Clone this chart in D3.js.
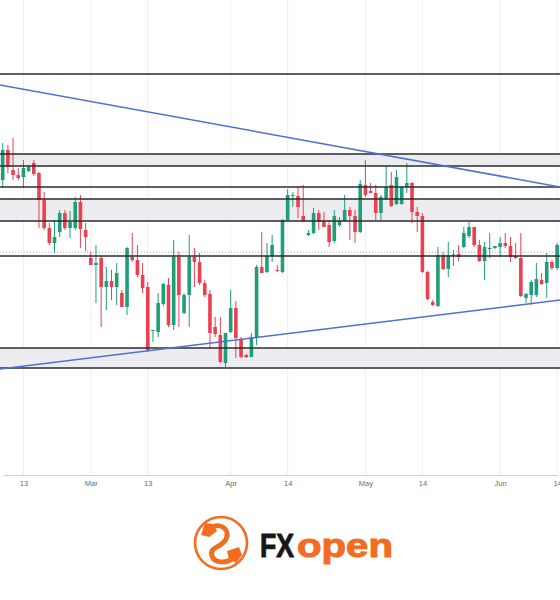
<!DOCTYPE html>
<html>
<head>
<meta charset="utf-8">
<script src="https://cdn.jsdelivr.net/npm/d3@7"></script>
<style>
  body { margin: 0; background: #fff; }
</style>
</head>
<body>
<div id="chart"></div>
<script>
// daily candles, Feb 9 .. Jun 14 (sunday bars included, no saturdays)
var openP = [1.320,1.350,1.330,1.325,1.323,1.329,1.337,1.327,1.300,1.272,1.257,1.268,1.287,1.272,1.272,1.298,1.270,1.242,1.235,1.242,
             1.213,1.219,1.213,1.207,1.193,1.243,1.240,1.225,1.213,1.169,1.168,1.196,1.215,1.175,1.243,1.187,1.205,1.243,1.238,1.217,
             1.206,1.173,1.165,1.137,1.168,1.192,1.161,1.145,1.143,1.163,1.233,1.228,1.244,1.230,1.228,1.280,1.304,1.304,1.284,1.265,
             1.267,1.287,1.279,1.275,1.259,1.275,1.279,1.290,1.284,1.268,1.315,1.309,1.307,1.287,1.301,1.315,1.296,1.296,1.313,1.317,
             1.288,1.284,1.228,1.198,1.194,1.245,1.231,1.244,1.246,1.253,1.264,1.273,1.255,1.239,1.2515,1.252,1.253,1.257,1.254,1.244,
             1.242,1.202,1.205,1.205,1.220,1.217,1.238,1.232];
var highP = [1.357,1.355,1.362,1.332,1.340,1.335,1.340,1.328,1.308,1.277,1.280,1.290,1.290,1.289,1.303,1.305,1.277,1.248,1.255,1.244,
             1.233,1.230,1.237,1.210,1.253,1.267,1.255,1.237,1.218,1.170,1.207,1.217,1.222,1.260,1.248,1.207,1.265,1.252,1.247,1.220,
             1.210,1.183,1.183,1.167,1.210,1.199,1.163,1.146,1.167,1.235,1.268,1.257,1.265,1.235,1.281,1.311,1.308,1.313,1.315,1.270,
             1.292,1.290,1.288,1.280,1.290,1.283,1.305,1.293,1.290,1.320,1.340,1.317,1.315,1.305,1.334,1.328,1.330,1.313,1.337,1.318,
             1.293,1.287,1.229,1.200,1.253,1.248,1.258,1.250,1.255,1.273,1.278,1.273,1.260,1.258,1.267,1.254,1.263,1.267,1.263,1.257,
             1.267,1.207,1.220,1.237,1.227,1.247,1.240,1.257];
var lowP = [1.313,1.327,1.320,1.320,1.312,1.328,1.324,1.272,1.270,1.255,1.247,1.263,1.270,1.262,1.270,1.252,1.249,1.235,1.197,1.173,
            1.190,1.200,1.195,1.193,1.185,1.238,1.223,1.207,1.148,1.158,1.163,1.194,1.173,1.170,1.173,1.186,1.173,1.213,1.215,1.203,
            1.152,1.163,1.137,1.133,1.167,1.142,1.142,1.142,1.143,1.155,1.227,1.227,1.238,1.228,1.227,1.279,1.293,1.282,1.278,1.264,
            1.266,1.270,1.273,1.253,1.257,1.273,1.278,1.260,1.257,1.267,1.303,1.307,1.280,1.280,1.300,1.293,1.295,1.295,1.307,1.277,
            1.268,1.227,1.200,1.194,1.193,1.230,1.223,1.234,1.239,1.252,1.262,1.253,1.238,1.220,1.242,1.251,1.243,1.252,1.238,1.241,
            1.203,1.197,1.195,1.203,1.215,1.202,1.230,1.230];
var closeP = [1.350,1.333,1.325,1.322,1.332,1.333,1.326,1.300,1.272,1.257,1.263,1.287,1.272,1.278,1.298,1.271,1.263,1.235,1.237,1.213,
              1.219,1.213,1.227,1.193,1.252,1.240,1.225,1.212,1.150,1.170,1.197,1.216,1.175,1.243,1.205,1.205,1.243,1.238,1.217,1.205,
              1.167,1.166,1.138,1.167,1.192,1.162,1.143,1.143,1.163,1.233,1.227,1.244,1.255,1.229,1.280,1.305,1.305,1.293,1.279,1.267,
              1.287,1.278,1.273,1.258,1.284,1.279,1.290,1.284,1.268,1.316,1.305,1.307,1.287,1.303,1.313,1.294,1.323,1.313,1.317,1.288,
              1.284,1.228,1.201,1.195,1.245,1.231,1.245,1.2455,1.243,1.267,1.273,1.255,1.239,1.253,1.252,1.254,1.257,1.254,1.243,1.242,
              1.204,1.206,1.218,1.221,1.216,1.238,1.232,1.255];

// drawn levels
var levelLines = [1.426, 1.346, 1.334, 1.313, 1.301, 1.279, 1.244, 1.152, 1.132];
var zones = [[1.334, 1.346], [1.279, 1.301], [1.132, 1.152]];
var lastPrice = 1.248;
// trend lines as [bar index, price]
var trendUpper = [[-1, 1.4155], [108, 1.3126]];
var trendLower = [[-1, 1.1307], [108, 1.2003]];

var tickDates = ["2026-02-13", "2026-03-01", "2026-03-13", "2026-04-01", "2026-04-14",
                 "2026-05-01", "2026-05-14", "2026-06-01", "2026-06-14"];
var tickLabels = ["13", "Mar", "13", "Apr", "14", "May", "14", "Jun", "14"];

var width = 560, height = 600, plotBottom = 475;
var upColor = "#1f9e7a", downColor = "#eb4050", orange = "#f36c21";

// bar dates, skipping saturdays like the feed does
var fmt = d3.timeFormat("%Y-%m-%d");
var dates = [];
var d = new Date(2026, 1, 9);
while (dates.length < openP.length) {
    if (d.getDay() !== 6) dates.push(new Date(d));
    d.setDate(d.getDate() + 1);
}
var candles = dates.map(function (dt, i) {
    return { i: i, date: dt, o: openP[i], h: highP[i], l: lowP[i], c: closeP[i] };
});
var tickIdx = tickDates.map(function (s) {
    return dates.findIndex(function (dt) { return fmt(dt) === s; });
});

var svg = d3.select("#chart").append("svg")
    .attr("width", width)
    .attr("height", height)
    .style("display", "block");

svg.append("defs").append("clipPath").attr("id", "plot")
    .append("rect").attr("x", 0).attr("y", 0).attr("width", width).attr("height", plotBottom);

var x = d3.scaleLinear().domain([0, 107]).range([2.7, 557.1]);
var y = d3.scaleLinear().domain([1.0, 1.5]).range([500, 0]);

var plot = svg.append("g").attr("clip-path", "url(#plot)");

// grid
plot.selectAll(".vgrid")
    .data(tickIdx)
    .enter().append("line")
    .attr("class", "vgrid")
    .attr("x1", function (d) { return x(d); })
    .attr("x2", function (d) { return x(d); })
    .attr("y1", 0).attr("y2", plotBottom)
    .attr("stroke", "#eeeeef")
    .attr("stroke-width", 1);

// zones
plot.selectAll(".zone")
    .data(zones)
    .enter().append("rect")
    .attr("class", "zone")
    .attr("x", 0)
    .attr("width", width)
    .attr("y", function (d) { return y(d[1]); })
    .attr("height", function (d) { return y(d[0]) - y(d[1]); })
    .attr("fill", "#ededf1");

// last price dotted
plot.append("line")
    .attr("x1", 0).attr("x2", width)
    .attr("y1", y(lastPrice)).attr("y2", y(lastPrice))
    .attr("stroke", "#a8b8b0")
    .attr("stroke-width", 1)
    .attr("stroke-dasharray", "1,2");

// candles
var cw = 3.6;
var cg = plot.selectAll(".candle")
    .data(candles)
    .enter().append("g")
    .attr("class", "candle");

cg.append("line")
    .attr("x1", function (d) { return x(d.i); })
    .attr("x2", function (d) { return x(d.i); })
    .attr("y1", function (d) { return y(d.h); })
    .attr("y2", function (d) { return y(d.l); })
    .attr("stroke", function (d) { return d.c >= d.o ? upColor : downColor; })
    .attr("stroke-width", 1);

cg.append("rect")
    .attr("x", function (d) { return x(d.i) - cw / 2; })
    .attr("width", cw)
    .attr("y", function (d) { return y(Math.max(d.o, d.c)); })
    .attr("height", function (d) { return Math.max(1, Math.abs(y(d.o) - y(d.c))); })
    .attr("fill", function (d) { return d.c >= d.o ? upColor : downColor; });

// level lines
plot.selectAll(".level")
    .data(levelLines)
    .enter().append("line")
    .attr("class", "level")
    .attr("x1", 0).attr("x2", width)
    .attr("y1", function (d) { return y(d); })
    .attr("y2", function (d) { return y(d); })
    .attr("stroke", "#2b2b2b")
    .attr("stroke-width", 1.4);

// trend lines
var tline = d3.line()
    .x(function (d) { return x(d[0]); })
    .y(function (d) { return y(d[1]); });

plot.selectAll(".trend")
    .data([trendUpper, trendLower])
    .enter().append("path")
    .attr("class", "trend")
    .attr("d", tline)
    .attr("fill", "none")
    .attr("stroke", "#4f6fd6")
    .attr("stroke-width", 1.5);

// x axis
var xAxis = svg.append("g")
    .attr("transform", "translate(0," + plotBottom + ")")
    .call(d3.axisBottom(x)
        .tickValues(tickIdx)
        .tickFormat(function (d, i) { return tickLabels[i]; })
        .tickSize(0)
        .tickPadding(6));
xAxis.select(".domain").attr("stroke", "#cfcfd2");
xAxis.selectAll("text")
    .attr("fill", "#6a6a6a")
    .style("font-family", "Arial, 'Liberation Sans', sans-serif")
    .style("font-size", "7.5px");

// FXOpen logo
var logo = svg.append("g").attr("transform", "translate(221,543)");
logo.append("circle")
    .attr("r", 26)
    .attr("fill", "none")
    .attr("stroke", orange)
    .attr("stroke-width", 2.6);
logo.append("path")
    .attr("d", "M-12,-14 C-2,-22 10,-14 5,-4 C1,5 -12,3 -9,13 C-7,20 5,21 12,15")
    .attr("fill", "none")
    .attr("stroke", orange)
    .attr("stroke-width", 5)
    .attr("stroke-linecap", "round");
logo.append("path")
    .attr("d", "M-20,-8 L-16,-20 L-8,-19 L-4,-12 L-12,-6 Z")
    .attr("fill", orange);
logo.append("path")
    .attr("d", "M6,8 L18,4 L21,12 L15,20 L8,16 Z")
    .attr("fill", orange);

svg.append("text")
    .attr("x", 260).attr("y", 557)
    .attr("textLength", 34)
    .attr("lengthAdjust", "spacingAndGlyphs")
    .style("font-family", "'Liberation Sans', Arial, sans-serif")
    .style("font-weight", "bold")
    .style("font-size", "34px")
    .attr("fill", "#161616")
    .attr("stroke", "#161616")
    .attr("stroke-width", 1)
    .text("FX");
svg.append("text")
    .attr("x", 297).attr("y", 557)
    .attr("textLength", 96)
    .attr("lengthAdjust", "spacingAndGlyphs")
    .style("font-family", "'Liberation Sans', Arial, sans-serif")
    .style("font-weight", "bold")
    .style("font-size", "34px")
    .attr("fill", orange)
    .attr("stroke", orange)
    .attr("stroke-width", 1)
    .text("open");
</script>
</body>
</html>
